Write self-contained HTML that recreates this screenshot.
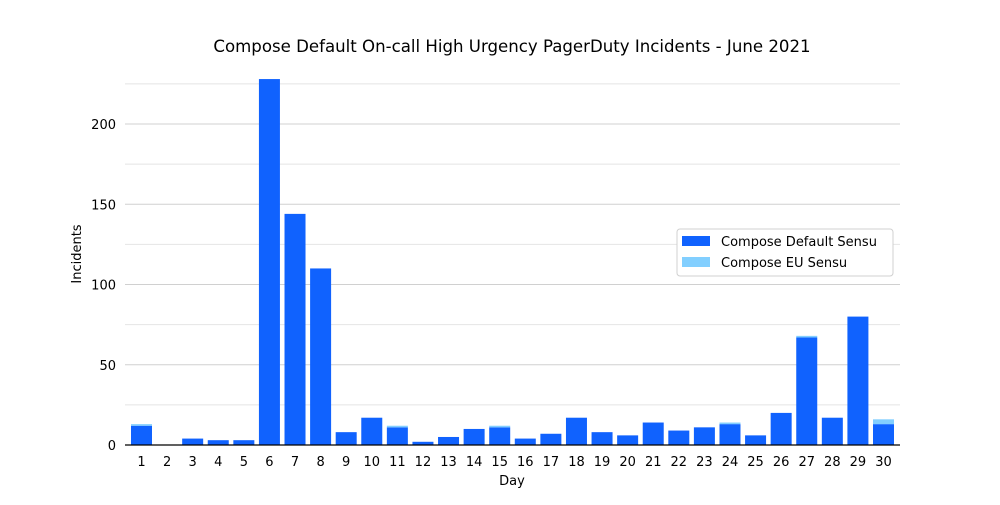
<!DOCTYPE html>
<html><head><meta charset="utf-8"><style>
body{margin:0;background:#fff;font-family:"Liberation Sans","DejaVu Sans",sans-serif}
</style></head><body>
<svg id="c" width="1000" height="500" xmlns="http://www.w3.org/2000/svg" font-family="DejaVu Sans, Liberation Sans, sans-serif"></svg>
<script>
const days=[1,2,3,4,5,6,7,8,9,10,11,12,13,14,15,16,17,18,19,20,21,22,23,24,25,26,27,28,29,30];
const defaultSensu=[12,0,4,3,3,228,144,110,8,17,11,2,5,10,11,4,7,17,8,6,14,9,11,13,6,20,67,17,80,13];
const euSensu=[1,0,0,0,0,0,0,0,0,0,1,0,0,0,1,0,0,0,0,0,0,0,0,1,0,0,1,0,0,3];
const yTicks=[0,50,100,150,200];
const gridTicks=[25,50,75,100,125,150,175,200,225];
const svg=document.getElementById('c');
const NS='http://www.w3.org/2000/svg';
function mk(t,a,txt){const e=document.createElementNS(NS,t);for(const k in a)e.setAttribute(k,a[k]);if(txt!==undefined)e.textContent=txt;svg.appendChild(e);return e;}
const x0=125,x1=900,yB=445,sc=1.605;
const y=v=>yB-v*sc;
const step=(883.5-141.5)/(days.length-1);
const xc=i=>141.5+step*i;
const bw=21;
let e;
for(const g of gridTicks){e=mk('line',{x1:x0,x2:x1,y1:y(g),y2:y(g),stroke:g%50===0?'#d0d0d0':'#e4e4e4','stroke-width':1});

}
e=mk('text',{x:512,y:52,'text-anchor':'middle','font-size':16.6,fill:'#000'},'Compose Default On-call High Urgency PagerDuty Incidents - June 2021');


days.forEach((d,i)=>{
 const v=defaultSensu[i],u=euSensu[i];
 if(v>0){e=mk('rect',{x:xc(i)-bw/2,y:y(v),width:bw,height:v*sc,fill:'#1062fe'});
 
 }
 if(u>0){e=mk('rect',{x:xc(i)-bw/2,y:y(v+u),width:bw,height:u*sc,fill:'#82cfff'});
 
 }
 e=mk('text',{x:xc(i),y:466,'text-anchor':'middle','font-size':13,fill:'#000'},d);
 
 
});
e=mk('line',{x1:x0,x2:x1,y1:yB,y2:yB,stroke:'#000','stroke-width':1.2});


for(const t of yTicks){e=mk('text',{x:116,y:y(t)+5,'text-anchor':'end','font-size':13,fill:'#000'},t);

}
e=mk('text',{x:512,y:485,'text-anchor':'middle','font-size':13},'Day');


e=mk('text',{x:81,y:254,'text-anchor':'middle','font-size':13,transform:'rotate(-90 81 254)'},'Incidents');


e=mk('rect',{x:677,y:229,width:216,height:47,rx:3,fill:'#fff',stroke:'#d0d0d0'});


const leg=[['Compose Default Sensu','#1062fe'],['Compose EU Sensu','#82cfff']];
leg.forEach((l,i)=>{
 e=mk('rect',{x:682,y:236+i*21,width:28,height:10,fill:l[1]});
 
 
 e=mk('text',{x:721,y:246+i*21,'font-size':13},l[0]);
 
 
});
</script>
</body></html>
